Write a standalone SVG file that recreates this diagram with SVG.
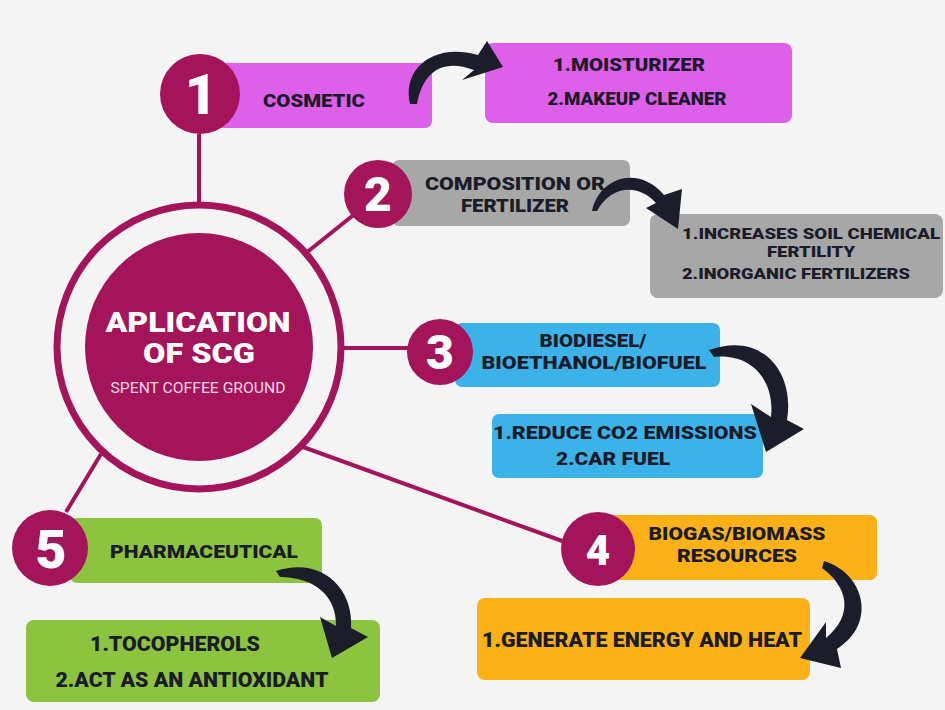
<svg xmlns="http://www.w3.org/2000/svg" width="945" height="710" viewBox="0 0 945 710">
<style>
.bg{fill:#f4f4f5}
.mag{fill:#a3145b}
.ln{stroke:#a3145b;stroke-width:4;fill:none}
.pk{fill:#de5fea}
.gy{fill:#a7a7a7}
.bl{fill:#3bb3e9}
.or{fill:#fcb216}
.gr{fill:#8cc440}
.t{font-family:Roboto,"Liberation Sans",sans-serif;font-weight:900;fill:#1b1b2a;text-anchor:middle;font-size:18.5px}
.s{font-size:15px}
.m{font-size:18px}
.l{font-size:19.5px}
.num{font-family:Roboto,"Liberation Sans",sans-serif;font-weight:900;fill:#ffffff;text-anchor:middle}
.ct{font-family:Roboto,"Liberation Sans",sans-serif;fill:#ffffff;text-anchor:middle}
.arr{fill:#1b1d2b}
</style>
<rect class="bg" x="0" y="0" width="945" height="710"/>
<g id="connectors">
<line class="ln" x1="199" y1="134" x2="199" y2="204"/>
<line class="ln" x1="306" y1="253" x2="356" y2="213"/>
<line class="ln" x1="340" y1="348" x2="415" y2="348"/>
<line class="ln" x1="303" y1="447" x2="565" y2="542"/>
<line class="ln" x1="101" y1="454" x2="66" y2="512"/>
</g>
<g id="center">
<circle cx="199" cy="347" r="142" fill="none" stroke="#a3145b" stroke-width="7"/>
<circle class="mag" cx="199" cy="347" r="114"/>
<text class="ct" x="198" y="332" font-weight="900" font-size="27" textLength="185" lengthAdjust="spacingAndGlyphs">APLICATION</text>
<text class="ct" x="199" y="363" font-weight="900" font-size="27" textLength="112" lengthAdjust="spacingAndGlyphs">OF SCG</text>
<text class="ct" x="198" y="393" font-weight="400" font-size="14.5" style="fill:#f3d6e4" textLength="175" lengthAdjust="spacingAndGlyphs">SPENT COFFEE GROUND</text>
</g>
<g id="node1">
<rect class="pk" x="215" y="63" width="217" height="65" rx="7"/>
<text class="t" x="314" y="107" textLength="102" lengthAdjust="spacingAndGlyphs">COSMETIC</text>
<circle class="mag" cx="200" cy="94" r="40"/>
<text class="num" x="201" y="114" font-size="56">1</text>
</g>
<g id="node1b">
<rect class="pk" x="485" y="43" width="307" height="80" rx="8"/>
<text class="t" x="629" y="71" textLength="152" lengthAdjust="spacingAndGlyphs">1.MOISTURIZER</text>
<text class="t" x="637" y="105" textLength="179" lengthAdjust="spacingAndGlyphs">2.MAKEUP CLEANER</text>
</g>
<g id="node2">
<rect class="gy" x="392" y="160" width="238" height="66" rx="7"/>
<text class="t" x="515" y="190" textLength="180" lengthAdjust="spacingAndGlyphs">COMPOSITION OR</text>
<text class="t" x="515" y="212" textLength="108" lengthAdjust="spacingAndGlyphs">FERTILIZER</text>
<circle class="mag" cx="378" cy="194" r="34"/>
<text class="num" x="378" y="211" font-size="48">2</text>
</g>
<g id="node2b">
<rect class="gy" x="650" y="214" width="293" height="84" rx="8"/>
<text class="t s" x="811" y="239" textLength="258" lengthAdjust="spacingAndGlyphs">1.INCREASES SOIL CHEMICAL</text>
<text class="t s" x="811" y="257" textLength="88" lengthAdjust="spacingAndGlyphs">FERTILITY</text>
<text class="t s" x="796" y="279" textLength="228" lengthAdjust="spacingAndGlyphs">2.INORGANIC FERTILIZERS</text>
</g>
<g id="node3">
<rect class="bl" x="455" y="323" width="265" height="64" rx="7"/>
<text class="t" x="593" y="347" textLength="107" lengthAdjust="spacingAndGlyphs">BIODIESEL/</text>
<text class="t" x="594" y="369" textLength="225" lengthAdjust="spacingAndGlyphs">BIOETHANOL/BIOFUEL</text>
<circle class="mag" cx="440" cy="352" r="33"/>
<text class="num" x="440" y="369" font-size="48">3</text>
</g>
<g id="node3b">
<rect class="bl" x="492" y="414" width="271" height="64" rx="7"/>
<text class="t" x="625" y="439" textLength="264" lengthAdjust="spacingAndGlyphs">1.REDUCE CO2 EMISSIONS</text>
<text class="t" x="613" y="465" textLength="114" lengthAdjust="spacingAndGlyphs">2.CAR FUEL</text>
</g>
<g id="node4">
<rect class="or" x="605" y="515" width="272" height="65" rx="7"/>
<text class="t m" x="737" y="540" textLength="177" lengthAdjust="spacingAndGlyphs">BIOGAS/BIOMASS</text>
<text class="t m" x="737" y="562" textLength="120" lengthAdjust="spacingAndGlyphs">RESOURCES</text>
<circle class="mag" cx="598" cy="549" r="37"/>
<text class="num" x="598" y="565" font-size="42">4</text>
</g>
<g id="node4b">
<rect class="or" x="477" y="598" width="333" height="82" rx="8"/>
<text class="t l" x="642" y="647" textLength="320" lengthAdjust="spacingAndGlyphs">1.GENERATE ENERGY AND HEAT</text>
</g>
<g id="node5">
<rect class="gr" x="70" y="518" width="252" height="65" rx="7"/>
<text class="t" x="204" y="558" textLength="188" lengthAdjust="spacingAndGlyphs">PHARMACEUTICAL</text>
<circle class="mag" cx="50" cy="548" r="38"/>
<text class="num" x="51" y="568" font-size="54">5</text>
</g>
<g id="node5b">
<rect class="gr" x="26" y="620" width="354" height="82" rx="8"/>
<text class="t l" x="175" y="651" textLength="170" lengthAdjust="spacingAndGlyphs">1.TOCOPHEROLS</text>
<text class="t l" x="192" y="687" textLength="273" lengthAdjust="spacingAndGlyphs">2.ACT AS AN ANTIOXIDANT</text>
</g>
<g id="arrows">
<path class="arr" d="M410 104 C402 70 432 42 478 55 L487 41 L503 67 L462 80 L474 70 C442 58 423 72 417 104 Z"/>
<path class="arr" d="M592 211 C599 178 638 164 664 195 L682 189 L678 229 L646 208 L656 203 C637 183 611 186 597 211 Z"/>
<path class="arr" d="M709 350 C762 331 795 372 787 420 L804 429 L766 452 L751 404 L771 417 C775 381 752 353 714 357 Z"/>
<path class="arr" d="M824 561 C864 573 878 623 837 649 L841 668 L800 658 L826 622 L826 638 C855 614 847 586 822 568 Z"/>
<path class="arr" d="M276 571 C323 556 354 590 351 628 L368 637 L332 658 L320 617 L336 626 C337 596 314 577 280 577 Z"/>
</g>
</svg>
